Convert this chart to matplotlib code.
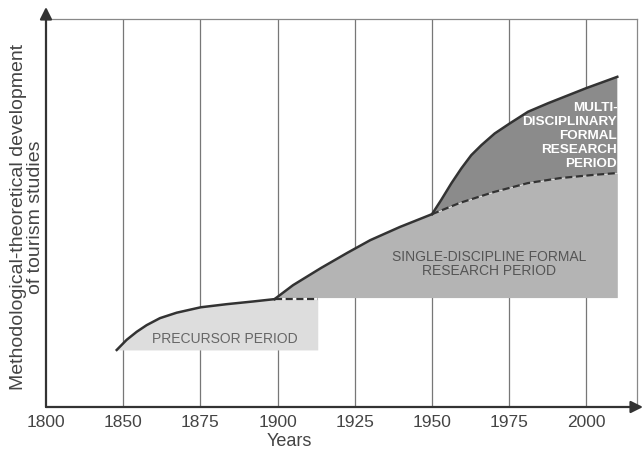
import numpy as np
import matplotlib as mpl
from matplotlib import pyplot as plt

mpl.rc('font', family=['Liberation Sans', 'DejaVu Sans'])

### data (years, relative development level) ###
tick_years = [1800, 1850, 1875, 1900, 1925, 1950, 1975, 2000]

precursor_years = [1845.8, 1851.1, 1854.4, 1857.6, 1861.9, 1867.3, 1875.1,
                   1883.5, 1892.1, 1899]
precursor_vals = [14.7, 17.3, 19.4, 21.1, 22.9, 24.3, 25.7, 26.5, 27.2, 27.8]
precursor_base = 14.7
precursor_end = 1913

single_years = [1899, 1905, 1914, 1922.5, 1930, 1939.6, 1950]
single_vals = [27.8, 31.4, 35.8, 39.7, 43.0, 46.4, 49.7]
single_base = 28.2

dashed_years = [1950, 1959, 1970, 1981, 1991.5, 2002, 2010]
dashed_vals = [49.7, 52.6, 55.4, 57.7, 59.0, 59.8, 60.3]

multi_years = [1950, 1953, 1956.3, 1959.5, 1962.7, 1966, 1970.3, 1975.2,
               1981.1, 1987.6, 2000, 2010]
multi_vals = [49.7, 53.4, 57.7, 61.5, 64.9, 67.5, 70.5, 73.1, 76.1, 78.3,
              82.2, 85.1]


def pos(years):
    # the axis is broken: 1800-1850 takes the same width as 25 years
    y = np.asarray(years, dtype=float)
    return np.where(y < 1850, (y - 1800) / 50, 1 + (y - 1850) / 25)


line_c = '#333333'
fig = plt.figure(figsize=(6.43, 4.5), dpi=100)
ax = fig.add_axes([46 / 643, 43 / 450, 591 / 643, 388 / 450])
ax.set_xlim(0, 7.655)
ax.set_ylim(0, 100)

### grid ###
for t in pos(tick_years[1:]):
    ax.axvline(t, color='#777777', lw=0.9, zorder=0)

### filled periods ###
px = np.concatenate([pos(precursor_years), pos([precursor_end])])
py = np.concatenate([precursor_vals, [precursor_vals[-1]]])
ax.fill_between(px, precursor_base, py, color='#dddddd', lw=0, zorder=1)

sx = np.concatenate([pos(single_years), pos(dashed_years[1:])])
sy = np.concatenate([single_vals, dashed_vals[1:]])
ax.fill_between(sx, single_base, sy, color='#b4b4b4', lw=0, zorder=1)

mx = np.concatenate([pos(multi_years), pos(dashed_years[::-1])])
my = np.concatenate([multi_vals, dashed_vals[::-1]])
ax.fill(mx, my, color='#8b8b8b', lw=0, zorder=1)

### curves ###
ax.plot(pos(precursor_years), precursor_vals, color=line_c, lw=1.8, zorder=3)
ax.plot(pos(single_years), single_vals, color=line_c, lw=1.8, zorder=3)
ax.plot(pos(multi_years), multi_vals, color=line_c, lw=1.8, zorder=3)
ax.plot(pos(dashed_years), dashed_vals, color=line_c, lw=1.6,
        ls=(0, (3.2, 1.6)), zorder=3)
ax.plot(pos([precursor_years[-1], precursor_end]), [precursor_vals[-1]] * 2,
        color=line_c, lw=1.6, ls=(0, (3.2, 1.6)), zorder=3)

### labels inside ###
ax.text(pos(1883), 17.5, 'PRECURSOR PERIOD', fontsize=10, color='#666666',
        ha='center', va='center', zorder=4)
ax.text(pos(1968.5), 36.9, 'SINGLE-DISCIPLINE FORMAL\nRESEARCH PERIOD',
        fontsize=10, color='#555555', ha='center', va='center',
        linespacing=1.05, zorder=4)
ax.text(pos(2010), 78.6, 'MULTI-\nDISCIPLINARY\nFORMAL\nRESEARCH\nPERIOD',
        fontsize=9.7, fontweight='bold', color='white', ha='right', va='top',
        linespacing=1.22, zorder=4)

### axes & arrows ###
for s in ['top', 'right']:
    ax.spines[s].set_color('#888888')
    ax.spines[s].set_linewidth(0.9)
for s in ['left', 'bottom']:
    ax.spines[s].set_visible(False)
arrow = dict(arrowstyle='-|>', lw=1.6, color=line_c, mutation_scale=18,
             shrinkA=0, shrinkB=0)
ax.annotate('', xy=(0, 1 + 12 / 388), xytext=(0, 0), xycoords='axes fraction',
            arrowprops=arrow, annotation_clip=False, zorder=5)
ax.annotate('', xy=(1 + 6 / 591, 0), xytext=(0, 0), xycoords='axes fraction',
            arrowprops=arrow, annotation_clip=False, zorder=5)

ax.set_xticks(pos(tick_years))
ax.set_xticklabels([str(t) for t in tick_years])
ax.set_yticks([])
ax.tick_params(axis='x', length=0, pad=6, labelsize=12.5, labelcolor='#444444')

fig.text(289 / 643, 1 - 442 / 450, 'Years', fontsize=13, color='#444444',
         ha='center', va='center')
fig.text(27 / 643, 1 - 217 / 450,
         'Methodological-theoretical development\nof tourism studies',
         fontsize=14, color='#444444', rotation=90, ha='center', va='center',
         linespacing=1.0)

plt.savefig('out.png', dpi=100)
